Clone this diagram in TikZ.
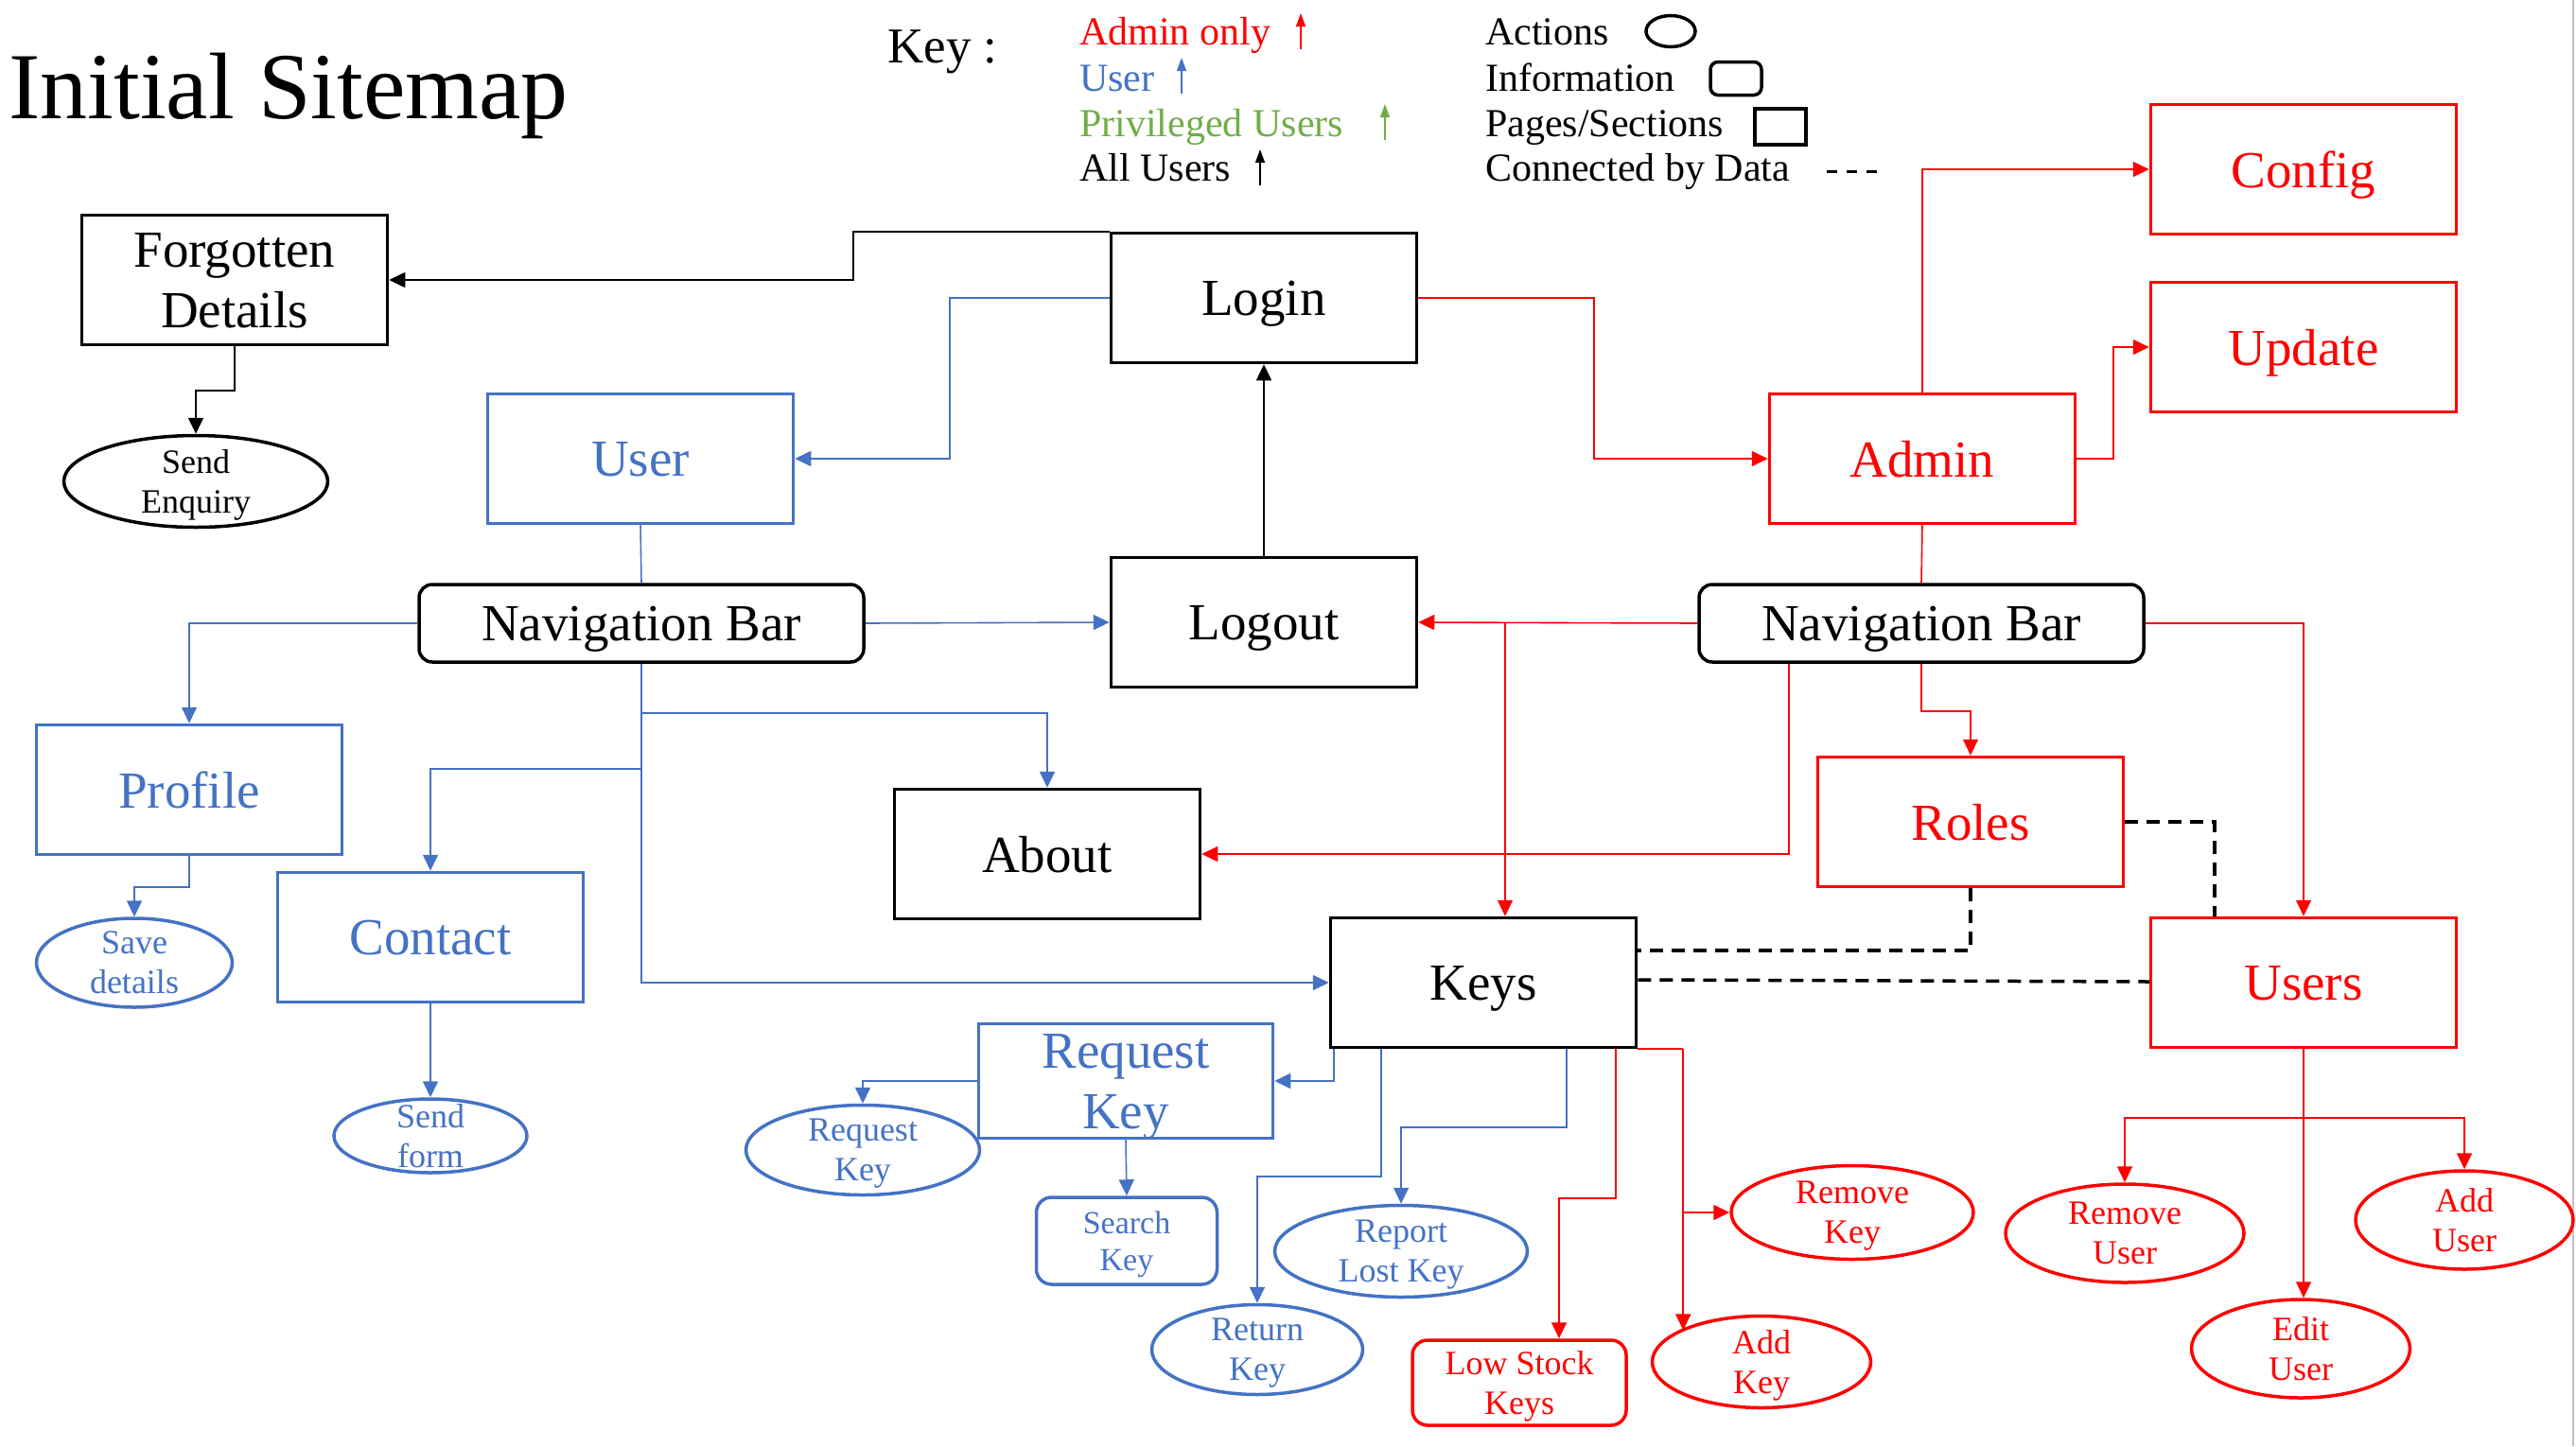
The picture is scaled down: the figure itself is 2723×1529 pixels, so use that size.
\documentclass[tikz,border=0pt]{standalone}
\usepackage{fontspec}
\setmainfont{Liberation Serif}
\usetikzlibrary{shapes.geometric,arrows.meta}
\definecolor{ublue}{HTML}{4472C4}
\definecolor{ured}{HTML}{FF0000}
\definecolor{ugreen}{HTML}{70AD47}
\newcommand{\bigf}{\fontsize{55}{64}\selectfont}
\newcommand{\smf}{\fontsize{36}{42}\selectfont}
\newcommand{\legf}{\fontsize{42}{48}\selectfont}
\begin{document}
\begin{tikzpicture}[x=1pt,y=-1pt,
  page/.style={draw,line width=3.5pt,minimum width=323pt,minimum height=137pt,inner sep=0pt,align=center,font=\bigf,text depth=0pt},
  navbox/.style={draw,line width=3.5pt,rounded corners=14pt,minimum width=470pt,minimum height=82pt,inner sep=0pt,font=\bigf,text depth=0pt},
  infobox/.style={draw,line width=3.5pt,rounded corners=16pt,inner sep=0pt,align=center,font=\smf,text depth=0pt},
  act/.style={draw,ellipse,line width=3.5pt,inner xsep=0pt,inner ysep=-14pt,align=center,font=\smf,text depth=0pt},
  conn/.style={line width=1.6pt,-{Triangle[length=17pt,width=16pt]}},
  plain/.style={line width=1.6pt},
  datalink/.style={line width=3.5pt,dash pattern=on 14pt off 9pt},
  legarrow/.style={line width=1.3pt,-{Triangle[length=14pt,width=10pt]}},
  legtext/.style={anchor=base west,font=\legf}
]
\useasboundingbox (0,0) rectangle (2723,1529);
\draw[black!25,line width=2pt] (2720,0) -- (2720,1529);

% title and key
\node[anchor=base west,font=\fontsize{100}{104}\selectfont,inner sep=0pt] (title) at (9,125) {Initial Sitemap};
\node[anchor=base west,font=\fontsize{53}{60}\selectfont,inner sep=0pt] (keylbl) at (938,66) {Key :};
\node[legtext,ured,inner sep=0pt] (l1) at (1141,47) {Admin only};
\node[legtext,ublue,inner sep=0pt] (l2) at (1141,96) {User};
\node[legtext,ugreen,inner sep=0pt] (l3) at (1141,144) {Privileged Users};
\node[legtext,inner sep=0pt] (l4) at (1141,191) {All Users};
\coordinate (a1s) at (1375,52); \coordinate (a1e) at (1375,14);
\coordinate (a2s) at (1249,99); \coordinate (a2e) at (1249,61);
\coordinate (a3s) at (1464,148); \coordinate (a3e) at (1464,110);
\coordinate (a4s) at (1332,196); \coordinate (a4e) at (1332,158);
\draw[legarrow,ured] (a1s) -- (a1e);
\draw[legarrow,ublue] (a2s) -- (a2e);
\draw[legarrow,ugreen] (a3s) -- (a3e);
\draw[legarrow] (a4s) -- (a4e);
\node[legtext,inner sep=0pt] (r1) at (1570,47) {Actions};
\node[legtext,inner sep=0pt] (r2) at (1570,96) {Information};
\node[legtext,inner sep=0pt] (r3) at (1570,144) {Pages/Sections};
\node[legtext,inner sep=0pt] (r4) at (1570,191) {Connected by Data};
\node[draw,ellipse,line width=3.5pt,minimum width=52pt,minimum height=33pt,inner sep=0pt] (lact) at (1766,33) {};
\node[draw,rounded corners=8pt,line width=3.5pt,minimum width=54pt,minimum height=35pt,inner sep=0pt] (linfo) at (1835,83) {};
\node[draw,line width=3.5pt,minimum width=54pt,minimum height=38pt,inner sep=0pt] (lpage) at (1882,134) {};
\coordinate (ld1) at (1931,181); \coordinate (ld2) at (1992,181);
\draw[line width=3pt,dash pattern=on 11pt off 10pt] (ld1) -- (ld2);

% black nodes
\node[page] (forgot) at (248,296) {Forgotten\\Details};
\node[act,minimum width=279pt,minimum height=97pt] (enq) at (207,509) {Send\\Enquiry};
\node[page] (login) at (1336,315) {Login};
\node[page] (logout) at (1336,658) {Logout};
\node[page] (about) at (1107,903) {About};
\node[page] (keys) at (1568,1039) {Keys};
\node[navbox] (navl) at (678,659) {Navigation Bar};
\node[navbox] (navr) at (2031,659) {Navigation Bar};

% blue nodes
\node[page,ublue] (user) at (677,485) {User};
\node[page,ublue] (profile) at (200,835) {Profile};
\node[page,ublue] (contact) at (455,991) {Contact};
\node[page,ublue,minimum width=311pt,minimum height=121pt] (reqbox) at (1190,1143) {Request\\Key};
\node[infobox,ublue,minimum width=191pt,minimum height=92pt,font=\fontsize{34}{39}\selectfont] (search) at (1191,1312) {Search\\Key};
\node[act,ublue,minimum width=207pt,minimum height=94pt] (save) at (142,1018) {Save\\details};
\node[act,ublue,minimum width=204pt,minimum height=78pt] (sendform) at (455,1201) {Send\\form};
\node[act,ublue,minimum width=247pt,minimum height=95pt] (reqell) at (912,1216) {Request\\Key};
\node[act,ublue,minimum width=267pt,minimum height=97pt] (report) at (1481,1323) {Report\\Lost Key};
\node[act,ublue,minimum width=223pt,minimum height=95pt] (ret) at (1329,1427) {Return\\Key};

% red nodes
\node[page,ured] (config) at (2435,179) {Config};
\node[page,ured] (update) at (2435,367) {Update};
\node[page,ured] (admin) at (2032,485) {Admin};
\node[page,ured] (roles) at (2083,869) {Roles};
\node[page,ured] (users) at (2435,1039) {Users};
\node[infobox,ured,minimum width=226pt,minimum height=90pt] (lowstock) at (1606,1462) {Low Stock\\Keys};
\node[act,ured,minimum width=256pt,minimum height=99pt] (remkey) at (1958,1282) {Remove\\Key};
\node[act,ured,minimum width=231pt,minimum height=97pt] (addkey) at (1862,1440) {Add\\Key};
\node[act,ured,minimum width=252pt,minimum height=104pt] (remuser) at (2246,1304) {Remove\\User};
\node[act,ured,minimum width=230pt,minimum height=104pt] (adduser) at (2605,1290) {Add\\User};
\node[act,ured,minimum width=231pt,minimum height=104pt] (edituser) at (2432,1426) {Edit\\User};

% black connectors
\draw[conn] (login.north west) -- ++(-271,0) |- (forgot.east);
\draw[conn] (forgot.south) -- ++(0,47) -| (enq.north);
\draw[conn] (logout.north) -- (login.south);

% blue connectors
\draw[conn,ublue] (login.west) -- ++(-169,0) |- (user.east);
\draw[plain,ublue] (user.south) -- (navl.north);
\draw[conn,ublue] (navl.west) -| (profile.north);
\draw[conn,ublue] (navl.east) -- (logout.west);
\draw[conn,ublue] (navl.south) -- ++(0,52) -| (about.north);
\draw[conn,ublue] (navl.south) -- ++(0,111) -| (contact.north);
\draw[conn,ublue] (navl.south) |- (keys.west);
\draw[conn,ublue] (profile.south) -- ++(0,33) -| (save.north);
\draw[conn,ublue] (contact.south) -- (sendform.north);
\draw[conn,ublue] ([xshift=5pt]keys.south west) |- (reqbox.east);
\draw[conn,ublue] (reqbox.west) -| (reqell.north);
\draw[conn,ublue] (reqbox.south) -- (search.north);
\draw[conn,ublue] ([xshift=55pt]keys.south west) -- ++(0,135) -| (ret.north);
\draw[conn,ublue] ([xshift=251pt]keys.south west) -- ++(0,83) -| (report.north);

% red connectors
\draw[conn,ured] (login.east) -- ++(186,0) |- (admin.west);
\draw[conn,ured] (admin.north) |- (config.west);
\draw[conn,ured] (admin.east) -- ++(39,0) |- (update.west);
\draw[plain,ured] (admin.south) -- (navr.north);
\draw[conn,ured] (navr.west) -- (logout.east);
\coordinate (kx) at ([xshift=23pt]keys.north);
\draw[conn,ured] (navr.west -| kx) -- (kx);
\draw[conn,ured] ([xshift=-140pt]navr.south) |- (about.east);
\draw[conn,ured] (navr.south) -- ++(0,50) -| (roles.north);
\draw[conn,ured] (navr.east) -| (users.north);
\draw[conn,ured] ([xshift=-23pt]keys.south east) -- ++(0,158) -| ([xshift=42pt]lowstock.north);
\draw[plain,ured] (keys.south east) -- ++(48,0) coordinate (ak);
\draw[conn,ured] (ak) -- (ak |- addkey.159);
\draw[conn,ured] (ak |- remkey.west) -- (remkey.west);
\draw[plain,ured] (users.south) -- ++(0,73) coordinate (uj);
\draw[conn,ured] (uj) -| (remuser.north);
\draw[conn,ured] (uj) -| (adduser.north);
\draw[conn,ured] (uj) -- (uj |- edituser.north);

% data links
\draw[datalink] (roles.south) |- ([yshift=34pt]keys.east);
\draw[datalink] (roles.east) -| ([xshift=-94pt]users.north);
\draw[datalink] ([yshift=3pt]keys.east) -- ([yshift=1pt]users.west);
\end{tikzpicture}
\end{document}
